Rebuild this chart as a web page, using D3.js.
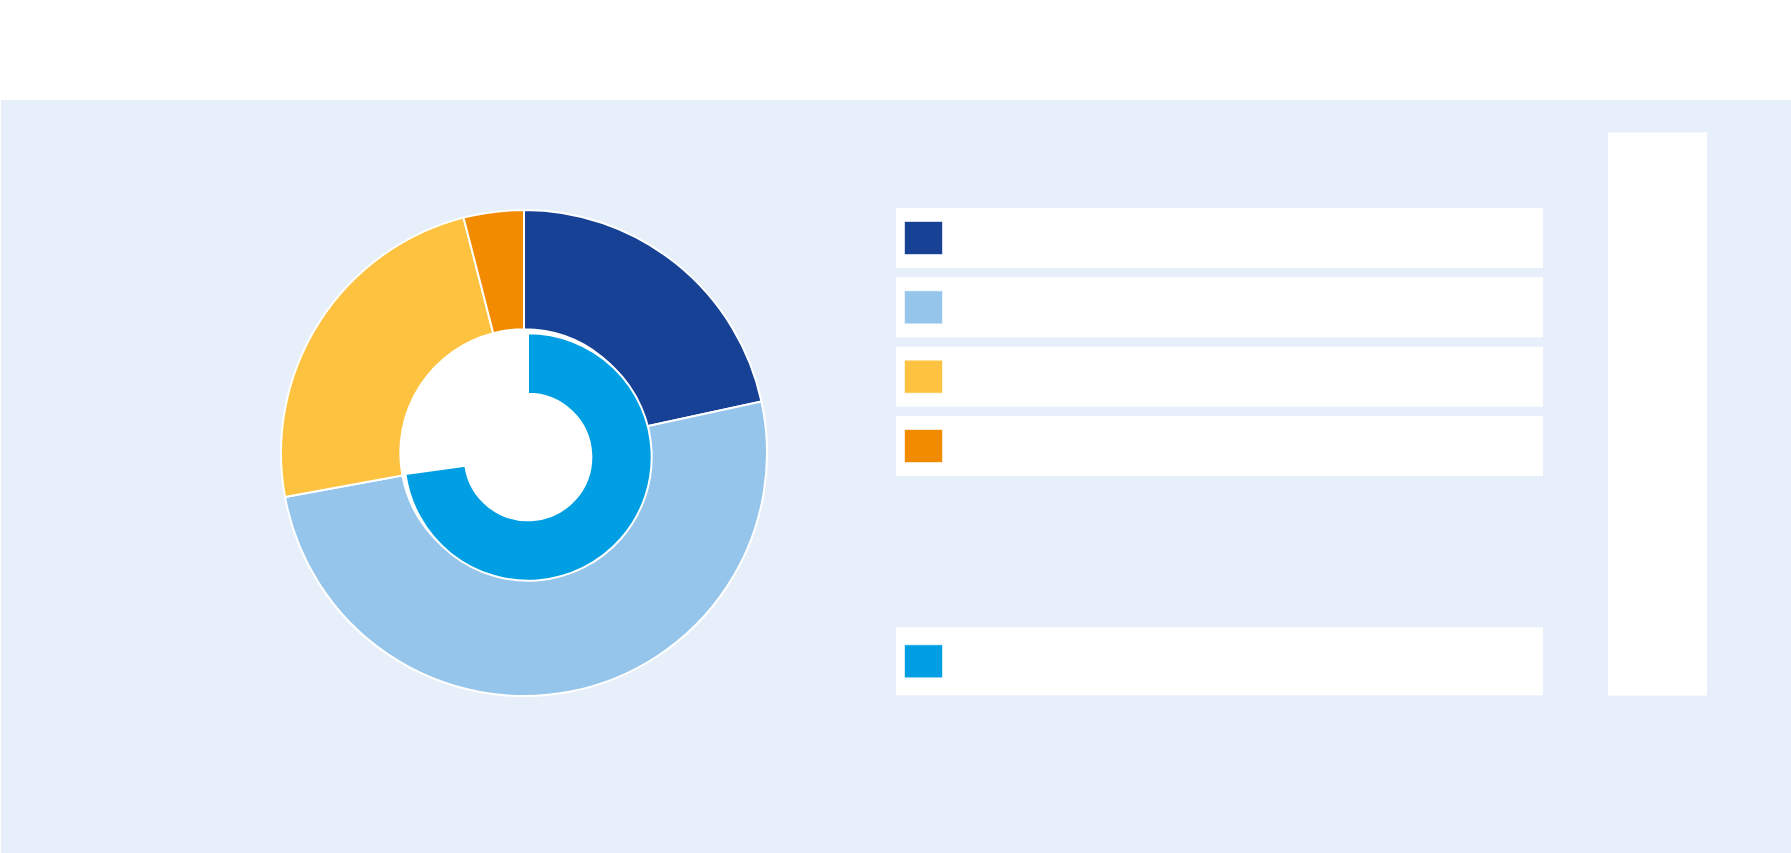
<!DOCTYPE html>
<html>
<head>
<meta charset="utf-8">
<script src="https://cdn.jsdelivr.net/npm/d3@7"></script>
<style>
  html, body { margin: 0; padding: 0; background: #ffffff; }
  svg { display: block; }
</style>
</head>
<body>
<svg id="chart" width="1791" height="853"></svg>
<script>
// ---- data ----
const outerCategories = ["s1", "s2", "s3", "s4"];
const outerValues = [21.6, 50.5, 23.9, 4.0];
const outerColors = ["#164194", "#95c5eb", "#fdc240", "#f28b00"];

const innerCategories = ["t1"];
const innerValues = [72.8];
const innerTotal = 100;
const innerColors = ["#009fe3"];

// ---- layout ----
const W = 1791, H = 853;
const svg = d3.select("#chart");

// background band
svg.append("rect").attr("x", 1).attr("y", 100).attr("width", W - 1).attr("height", H - 100)
  .attr("fill", "#e7f0fa");

// right panel
svg.append("rect").attr("x", 1608).attr("y", 132.5).attr("width", 99).attr("height", 563)
  .attr("fill", "#ffffff");

// ---- outer donut ----
const cx = 524, cy = 453;
const rOuter = 243, rInnerOuter = 123.7;

const gOuter = svg.append("g").attr("transform", `translate(${cx},${cy})`);
gOuter.append("circle").attr("r", rInnerOuter).attr("fill", "#ffffff");

const pieOuter = d3.pie().sort(null).value(d => d.v);
const arcOuter = d3.arc().innerRadius(rInnerOuter).outerRadius(rOuter);
const outerData = outerCategories.map((c, i) => ({ c, v: outerValues[i], color: outerColors[i] }));

gOuter.selectAll("path.outer").data(pieOuter(outerData)).join("path")
  .attr("class", "outer")
  .attr("d", arcOuter)
  .attr("fill", d => d.data.color)
  .attr("stroke", "#ffffff")
  .attr("stroke-width", 2)
  .attr("stroke-linejoin", "round");

// ---- inner donut (slightly offset) ----
const gInner = svg.append("g").attr("transform", `translate(${cx + 4},${cy + 4})`);
const innerSum = d3.sum(innerValues);
const innerData = innerCategories.map((c, i) => ({ c, v: innerValues[i], color: innerColors[i] }))
  .concat([{ c: "rest", v: innerTotal - innerSum, color: "#ffffff" }]);
const pieInner = d3.pie().sort(null).value(d => d.v);
const arcInner = d3.arc().innerRadius(63.3).outerRadius(rInnerOuter);

gInner.selectAll("path.inner").data(pieInner(innerData)).join("path")
  .attr("class", "inner")
  .attr("d", arcInner)
  .attr("fill", d => d.data.color)
  .attr("stroke", d => d.data.c === "rest" ? "none" : "#ffffff")
  .attr("stroke-width", 2);

// ---- legend ----
const legX = 896, legW = 647;
const yBand = d3.scaleBand().domain(outerCategories).range([208, 476])
  .paddingInner(9.33 / 69.33).paddingOuter(0);

const leg = svg.append("g");
const rows = leg.selectAll("g.row").data(outerData).join("g").attr("class", "row")
  .attr("transform", d => `translate(${legX},${yBand(d.c)})`);
rows.append("rect").attr("width", legW).attr("height", yBand.bandwidth()).attr("fill", "#ffffff");
rows.append("rect").attr("x", 8.5).attr("y", (yBand.bandwidth() - 33) / 2)
  .attr("width", 38).attr("height", 33)
  .attr("fill", d => d.color)
  .attr("stroke", "rgba(255,255,255,0.6)").attr("stroke-width", 1);

// inner series legend
const innerLegend = svg.append("g").selectAll("g").data(innerData.filter(d => d.c !== "rest")).join("g")
  .attr("transform", `translate(${legX},627.3)`);
innerLegend.append("rect").attr("width", legW).attr("height", 68).attr("fill", "#ffffff");
innerLegend.append("rect").attr("x", 8.5).attr("y", (68 - 33) / 2)
  .attr("width", 38).attr("height", 33)
  .attr("fill", d => d.color)
  .attr("stroke", "rgba(255,255,255,0.6)").attr("stroke-width", 1);
</script>
</body>
</html>
